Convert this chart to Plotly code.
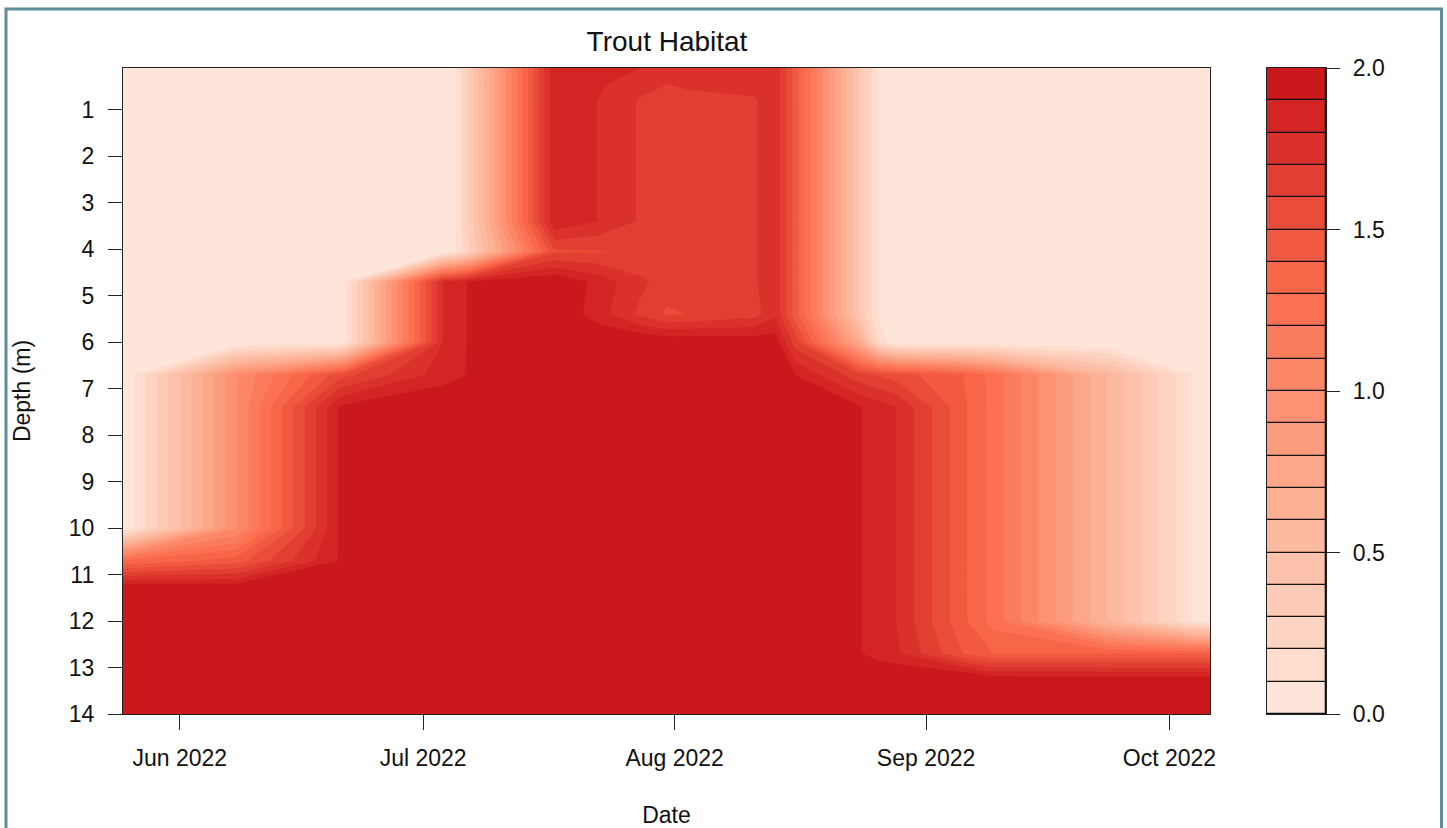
import plotly.graph_objects as go

# ---------- data ----------
sample_dates = [
    "2022-05-25 00:00", "2022-06-07 22:00", "2022-06-20 15:00", "2022-06-21 08:00",
    "2022-07-03 10:30", "2022-07-05 01:00", "2022-07-06 12:30", "2022-07-17 06:00",
    "2022-07-22 10:30", "2022-07-27 18:00", "2022-07-31 02:00", "2022-08-02 13:00",
    "2022-08-10 22:00", "2022-08-13 09:00", "2022-08-15 21:00", "2022-08-23 21:00",
    "2022-08-26 02:00", "2022-08-28 08:00", "2022-09-06 02:00", "2022-09-09 07:00",
    "2022-09-23 08:00", "2022-10-03 20:00", "2022-10-06 00:00",
]
depths = [0.1, 0.45, 0.8, 3.4, 4.05, 4.7, 5.4, 6.0, 6.7, 7.4, 10.0, 10.7, 11.2, 12.0, 12.7, 13.2, 14.0]

d_0_10 = [0, 0, 0, 0, 0, .09, .31, 1.89, 1.85, 1.80, 1.77, 1.76, 1.75, 1.78, 1.45, .385, .09, 0, 0, 0, 0, 0, 0]
d_0_45 = [0, 0, 0, 0, 0, .09, .31, 1.89, 1.82, 1.74, 1.70, 1.72, 1.73, 1.78, 1.45, .385, .09, 0, 0, 0, 0, 0, 0]
d_0_80 = [0, 0, 0, 0, 0, .09, .31, 1.89, 1.80, 1.69, 1.665, 1.66, 1.69, 1.78, 1.45, .385, .09, 0, 0, 0, 0, 0, 0]
d_3_40 = [0, 0, 0, 0, 0, .09, .31, 1.89, 1.80, 1.69, 1.665, 1.66, 1.69, 1.78, 1.45, .385, .09, 0, 0, 0, 0, 0, 0]
d_4_05 = [0, 0, 0, 0, 0, .09, .27, 1.58, 1.59, 1.62, 1.65, 1.66, 1.69, 1.78, 1.45, .385, .09, 0, 0, 0, 0, 0, 0]
d_4_70 = [0, 0, 0, .08, 1.8, 1.84, 1.905, 2, 1.87, 1.72, 1.66, 1.65, 1.69, 1.78, 1.45, .385, .09, 0, 0, 0, 0, 0, 0]
d_5_40 = [0, 0, 0, .08, 1.8, 1.84, 1.905, 2, 1.85, 1.68, 1.58, 1.60, 1.66, 1.78, 1.45, .385, .09, 0, 0, 0, 0, 0, 0]
d_6_00 = [0, 0, 0, .08, 1.8, 1.84, 1.905, 2, 2, 2, 1.985, 1.985, 1.97, 1.96, 1.65, .7, .2, 0, 0, 0, 0, 0, 0]
d_6_70 = [0, .99, 1.55, 1.57, 1.85, 1.88, 1.905, 2, 2, 2, 2, 2, 2, 2, 1.9, 1.63, 1.59, 1.55, 1.39, 1.26, .6, .1, 0]
d_7_40 = [0, .99, 1.905, 1.93, 2, 2, 2, 2, 2, 2, 2, 2, 2, 2, 2, 1.905, 1.85, 1.8, 1.4, 1.26, .6, .1, 0]
d_10_0 = [0, .99, 1.905, 1.93, 2, 2, 2, 2, 2, 2, 2, 2, 2, 2, 2, 1.905, 1.85, 1.8, 1.4, 1.26, .6, .1, 0]
d_10_7 = [1.3, 1.45, 1.905, 1.95, 2, 2, 2, 2, 2, 2, 2, 2, 2, 2, 2, 1.905, 1.85, 1.8, 1.4, 1.26, .6, .1, 0]
d_11_2 = [1.9, 1.9, 2, 2, 2, 2, 2, 2, 2, 2, 2, 2, 2, 2, 2, 1.905, 1.85, 1.8, 1.4, 1.26, .6, .1, 0]
d_12_0 = [2, 2, 2, 2, 2, 2, 2, 2, 2, 2, 2, 2, 2, 2, 2, 1.905, 1.85, 1.8, 1.4, 1.26, .6, .1, .05]
d_12_7 = [2, 2, 2, 2, 2, 2, 2, 2, 2, 2, 2, 2, 2, 2, 2, 1.905, 1.86, 1.82, 1.48, 1.4, 1.4, 1.4, 1.4]
d_13_2 = [2, 2, 2, 2, 2, 2, 2, 2, 2, 2, 2, 2, 2, 2, 2, 2, 2, 2, 2, 1.91, 1.905, 1.905, 1.905]
d_14_0 = [2] * 23

habitat = [d_0_10, d_0_45, d_0_80, d_3_40, d_4_05, d_4_70, d_5_40, d_6_00, d_6_70,
           d_7_40, d_10_0, d_10_7, d_11_2, d_12_0, d_12_7, d_13_2, d_14_0]

date_ticks = ["2022-06-01", "2022-07-01", "2022-08-01", "2022-09-01", "2022-10-01"]
date_labels = ["Jun 2022", "Jul 2022", "Aug 2022", "Sep 2022", "Oct 2022"]
depth_ticks = list(range(1, 15))
level_bases = [i / 10 for i in range(20)]
level_widths = [0.1] * 20
scale_ticks = [0, 0.5, 1.0, 1.5, 2.0]
scale_labels = ["0.0", "0.5", "1.0", "1.5", "2.0"]

# ---------- styles ----------
W, H = 1447, 828
FONT = "Liberation Sans"
INK = "#111111"
ramp = [(0xFE, 0xE5, 0xD9), (0xFC, 0xAE, 0x91), (0xFB, 0x6A, 0x4A), (0xCB, 0x18, 0x1D)]


def ramp_color(t):
    s = t * (len(ramp) - 1)
    i = min(int(s), len(ramp) - 2)
    f = s - i
    c = [round(ramp[i][k] + (ramp[i + 1][k] - ramp[i][k]) * f) for k in range(3)]
    return "rgb(%d,%d,%d)" % tuple(c)


colors = [ramp_color(k / 19) for k in range(20)]
colorscale = [[k / 19, colors[k]] for k in range(20)]

fig = go.Figure()
fig.add_trace(go.Contour(
    x=sample_dates, y=depths, z=habitat,
    colorscale=colorscale, showscale=False,
    autocontour=False,
    contours=dict(start=0.1, end=1.9, size=0.1, coloring="fill", showlines=False),
    line=dict(width=0, smoothing=0),
    hoverinfo="skip",
))
fig.add_trace(go.Bar(
    x=["scale"] * 20, y=level_widths, base=level_bases,
    marker=dict(color=colors, line=dict(color="#111111", width=1.3)),
    xaxis="x2", yaxis="y2", width=1, showlegend=False, hoverinfo="skip", cliponaxis=False,
))

fig.update_layout(
    width=W, height=H,
    margin=dict(l=0, r=0, t=0, b=0, pad=0, autoexpand=False),
    paper_bgcolor="white", plot_bgcolor="white",
    font=dict(family=FONT, size=23, color=INK),
    showlegend=False, barmode="overlay", bargap=0,
    title=dict(text="Trout Habitat", x=667 / W, xanchor="center", y=1 - 41 / H, yanchor="middle",
               font=dict(family=FONT, size=28, color=INK)),
    xaxis=dict(
        domain=[123 / W, 1210 / W], type="date", range=["2022-05-25", "2022-10-06"],
        tickmode="array", tickvals=date_ticks, ticktext=date_labels,
        ticks="outside", ticklen=15, tickwidth=1.3, tickcolor="#222222",
        ticklabelstandoff=8, tickangle=0,
        showgrid=False, zeroline=False, showline=True, linecolor="#222222", linewidth=1.3, mirror=True,
        title=dict(text="Date", standoff=40, font=dict(size=23)),
    ),
    yaxis=dict(
        domain=[1 - 714 / H, 1 - 68 / H], range=[14, 0.1],
        tickmode="array", tickvals=depth_ticks, ticktext=[str(v) for v in depth_ticks],
        ticks="outside", ticklen=14, tickwidth=1.3, tickcolor="#222222",
        ticklabelstandoff=9,
        showgrid=False, zeroline=False, showline=True, linecolor="#222222", linewidth=1.3, mirror=True,
        title=dict(text="Depth (m)", standoff=31, font=dict(size=23)),
    ),
    xaxis2=dict(domain=[1267 / W, 1326 / W], anchor="y2", type="category", range=[-0.5, 0.5],
                showticklabels=False, ticks="", showgrid=False, zeroline=False,
                showline=True, linecolor="#222222", linewidth=1.3, mirror=True),
    yaxis2=dict(domain=[1 - 714 / H, 1 - 68 / H], anchor="x2", side="right", range=[0, 2],
                tickmode="array", tickvals=scale_ticks, ticktext=scale_labels,
                ticks="outside", ticklen=13, tickwidth=1.3, tickcolor="#222222",
                ticklabelstandoff=8,
                showgrid=False, zeroline=False,
                showline=True, linecolor="#222222", linewidth=1.3, mirror=True),
    shapes=[dict(type="rect", xref="paper", yref="paper", layer="below",
                 x0=6 / W, x1=1441.5 / W, y0=-0.05, y1=1 - 9 / H,
                 line=dict(color="#5f8d98", width=3), fillcolor="rgba(0,0,0,0)")],
)

fig.write_html("out.html", config=dict(displayModeBar=False),
               post_script="document.body.style.margin='0';document.body.style.overflow='hidden';")
